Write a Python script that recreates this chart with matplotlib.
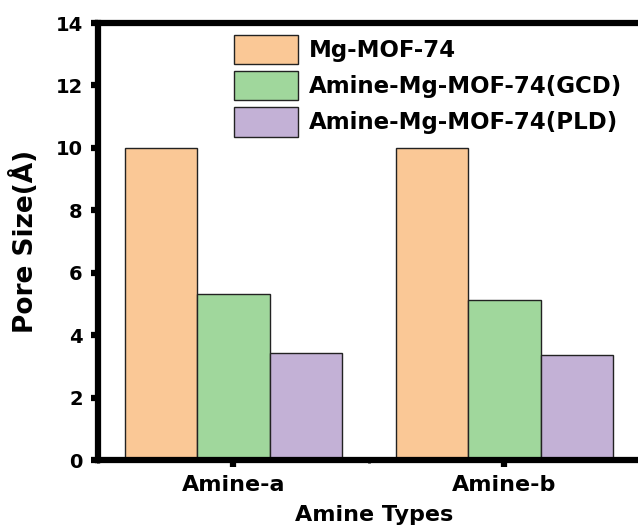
import numpy as np
import matplotlib
matplotlib.use("Agg")
import matplotlib.pyplot as plt
from matplotlib.ticker import MultipleLocator

amine_types = ["Amine-a", "Amine-b"]
series_names = ["Mg-MOF-74", "Amine-Mg-MOF-74(GCD)", "Amine-Mg-MOF-74(PLD)"]
mof74 = [10.0, 10.0]
gcd = [5.33, 5.13]
pld = [3.42, 3.37]
colors = ["#FAC896", "#A0D79C", "#C3B1D6"]

plt.rcParams["font.family"] = ["DejaVu Sans"]
plt.rcParams["font.weight"] = "bold"

fig = plt.figure(figsize=(6.38, 5.28), dpi=100)
# right spine sits just past the figure edge
ax = fig.add_axes([98 / 638, 68 / 528, 552 / 638, 437 / 528])

x = np.arange(len(amine_types))
w = 0.8 / 3
for i, (vals, name, c) in enumerate(zip([mof74, gcd, pld], series_names, colors)):
    ax.bar(x + (i - 1) * w, vals, w, color=c, edgecolor="#222222",
           linewidth=1.0, label=name)

ax.set_xlim(-0.5, -0.5 + 552 / 271)
ax.set_ylim(0, 14)
ax.set_xticks(x)
ax.set_xticklabels(amine_types, fontsize=16, fontweight="bold")
ax.yaxis.set_major_locator(MultipleLocator(2))
ax.yaxis.set_minor_locator(MultipleLocator(1))
ax.xaxis.set_minor_locator(MultipleLocator(0.5))
for lab in ax.get_yticklabels():
    lab.set_fontsize(14)
    lab.set_fontweight("bold")

for s in ax.spines.values():
    s.set_linewidth(4.5)
ax.tick_params(axis="both", which="major", direction="out", length=5, width=4.5)
ax.tick_params(axis="y", which="major", pad=6)
ax.tick_params(axis="x", which="major", pad=6)
ax.tick_params(axis="both", which="minor", direction="out", length=2.5, width=2)

ax.set_xlabel("Amine Types", fontsize=16, fontweight="bold", labelpad=7)
ax.set_ylabel("Pore Size(Å)", fontsize=19, fontweight="bold", labelpad=12)

ax.legend(loc="upper left", bbox_to_anchor=(0.222, 1.005), frameon=False,
          prop={"size": 16.5, "weight": "bold"}, handlelength=2.8,
          handleheight=1.6, handletextpad=0.45, labelspacing=0.3,
          borderaxespad=0.2)

fig.savefig("out.png", dpi=100)
